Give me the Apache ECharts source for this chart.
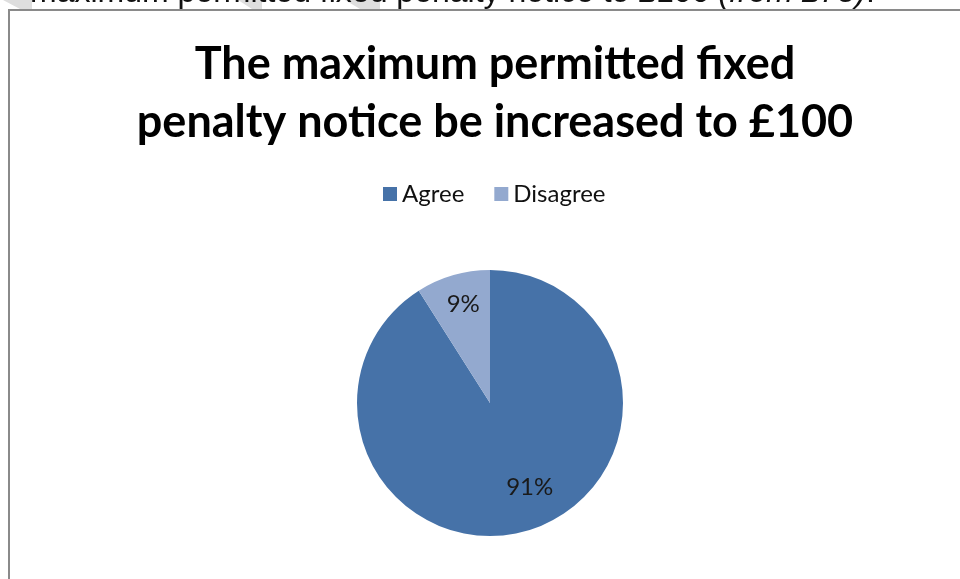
<!DOCTYPE html>
<html>
<head>
<meta charset="utf-8">
<script src="https://cdn.jsdelivr.net/npm/echarts@6/dist/echarts.min.js"></script>
<style>
html,body{margin:0;padding:0;background:#fff;}
#chart{width:960px;height:579px;}
</style>
</head>
<body>
<div id="chart"></div>
<script>
const titleLines = ['The maximum permitted fixed', 'penalty notice be increased to £100'];
const categories = ['Agree', 'Disagree'];
const values = [91, 9];
const colors = ['#4672A8', '#93A9CF'];

const chart = echarts.init(document.getElementById('chart'));
const pieData = categories.map((c, i) => ({ name: c, value: values[i], itemStyle: { color: colors[i] } }));
const labelOffsets = [[11, -15], [2, 0]];
const labelData = categories.map((c, i) => ({ name: c, value: values[i], label: { offset: labelOffsets[i] } }));

chart.setOption({
  backgroundColor: '#ffffff',
  animation: false,
  title: {
    text: titleLines.join('\n'),
    left: 490,
    top: 30,
    textAlign: 'center',
    textStyle: { fontFamily: 'Lato', fontWeight: 'bold', fontSize: 45, lineHeight: 58, color: '#000' }
  },
  legend: {
    data: categories,
    left: 378,
    top: 177,
    itemWidth: 14,
    itemHeight: 14,
    itemGap: 30,
    icon: 'rect',
    textStyle: { fontFamily: 'Lato', fontSize: 24, color: '#111', padding: [0, 0, 0, 0] }
  },
  graphic: [
    { type: 'polygon', silent: true, shape: { points: [[3,0],[32,0],[32,9],[20,9]] }, style: { fill: '#dedede' } },
    { type: 'polygon', silent: true, shape: { points: [[238,0],[262,0],[262,9],[252,9]] }, style: { fill: '#dedede' } },
    { type: 'polygon', silent: true, shape: { points: [[345,0],[380,0],[380,9],[360,9]] }, style: { fill: '#dedede' } },
    {
      type: 'text', silent: true, left: 30, top: -23,
      style: {
        text: '{a|maximum permitted fixed penalty notice to £100 }{b|(from £75)}{a|.}',
        rich: {
          a: { fontFamily: 'Liberation Sans', fontSize: 32, fill: '#111' },
          b: { fontFamily: 'Liberation Sans', fontSize: 32, fontStyle: 'italic', fill: '#111' }
        }
      }
    },
    { type: 'polyline', silent: true, shape: { points: [[9,600],[9,10],[980,10]] }, style: { stroke: '#8a8a8a', lineWidth: 2, fill: null } }
  ],
  series: [
    {
      type: 'pie',
      center: [490, 403],
      radius: [0, 133],
      startAngle: 90,
      clockwise: true,
      label: { show: false },
      labelLine: { show: false },
      emphasis: { disabled: true },
      data: pieData
    },
    {
      type: 'pie',
      center: [490, 403],
      radius: [67, 133],
      startAngle: 90,
      clockwise: true,
      silent: true,
      itemStyle: { color: 'rgba(0,0,0,0)' },
      label: {
        show: true,
        position: 'inside',
        formatter: '{c}%',
        fontFamily: 'Lato',
        fontSize: 24,
        color: '#1a1a1a'
      },
      labelLine: { show: false },
      emphasis: { disabled: true },
      data: labelData
    }
  ]
});
</script>
</body>
</html>
